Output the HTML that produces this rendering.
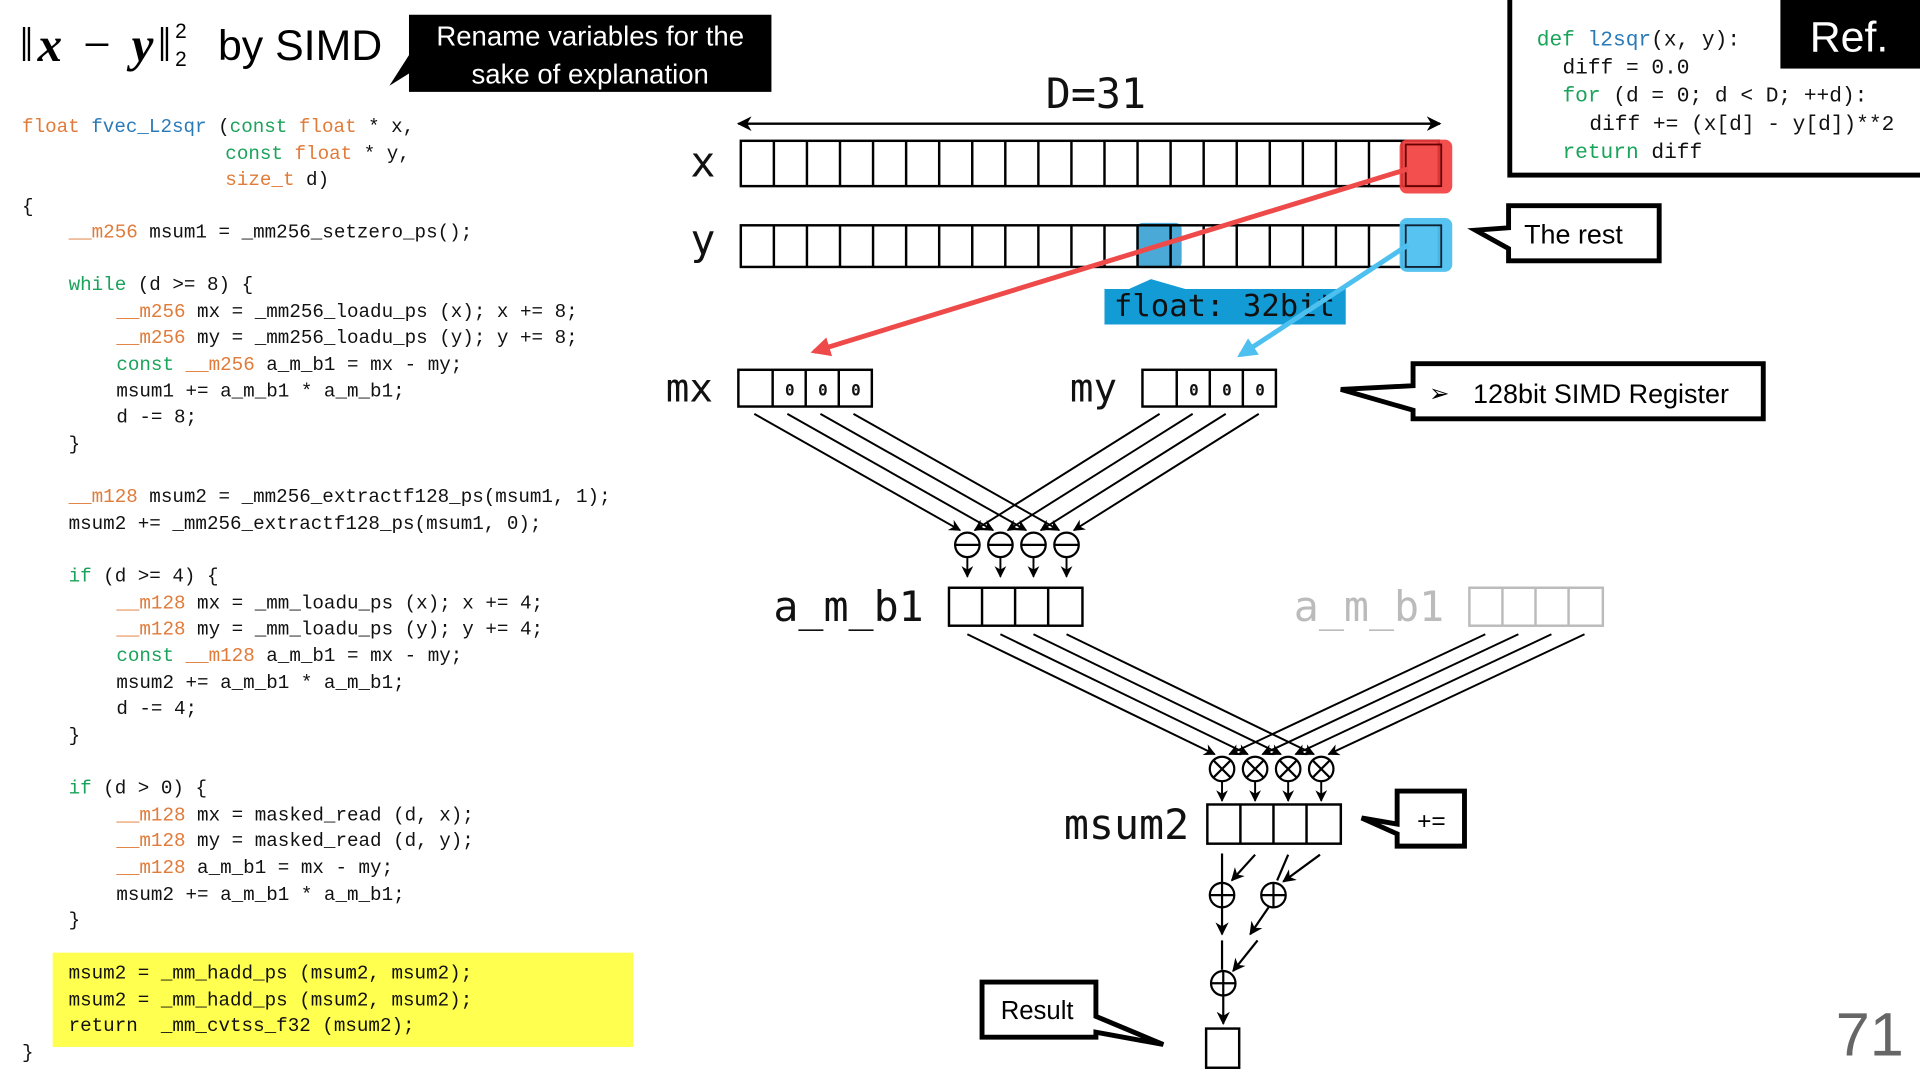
<!DOCTYPE html>
<html><head><meta charset="utf-8"><style>
html,body{margin:0;padding:0;background:#fff;}
svg{display:block;}
.c{font-family:"Liberation Mono",monospace;font-size:15.7px;fill:#111;white-space:pre;}
.o{fill:#e07b39}.b{fill:#2a7ab8}.g{fill:#1aa35a}
.lbl{font-family:"DejaVu Sans Mono","Liberation Mono",monospace;fill:#111;}
.s{font-family:"Liberation Sans",sans-serif;}
</style></head><body>
<svg width="1920" height="1080" viewBox="0 0 1568 882" xmlns="http://www.w3.org/2000/svg">
<defs>
<marker id="ah" viewBox="0 0 10 10" refX="9" refY="5" markerWidth="6" markerHeight="6" orient="auto-start-reverse"><path d="M0,0L10,5L0,10L3,5z" fill="#000"/></marker>
<marker id="ar" viewBox="0 0 10 10" refX="8" refY="5" markerWidth="4" markerHeight="4" orient="auto"><path d="M0,0L10,5L0,10z" fill="#ef4a4a"/></marker>
<marker id="ab" viewBox="0 0 10 10" refX="8" refY="5" markerWidth="4" markerHeight="4" orient="auto"><path d="M0,0L10,5L0,10z" fill="#4dc0ef"/></marker>
</defs>

<!-- title -->
<text x="16" y="50" font-size="40" font-family="Liberation Serif" textLength="124" lengthAdjust="spacing"><tspan>‖</tspan><tspan font-style="italic" font-weight="bold">x</tspan><tspan> − </tspan><tspan font-style="italic" font-weight="bold">y</tspan><tspan>‖</tspan></text>
<text x="143" y="31" font-size="17" class="s">2</text>
<text x="143" y="54" font-size="17" class="s">2</text>
<text x="178" y="49" font-size="35" class="s">by SIMD</text>

<!-- rename callout -->
<path d="M334,12H630V75H334V60L318,70L334,45Z" fill="#000"/>
<text x="482" y="37" font-size="22.5" fill="#fff" class="s" text-anchor="middle">Rename variables for the</text>
<text x="482" y="68" font-size="22.5" fill="#fff" class="s" text-anchor="middle">sake of explanation</text>

<!-- code -->
<rect x="43" y="778" width="474" height="77" fill="#ffff50"/>
<text class="c" x="18" y="108"><tspan class="o">float</tspan> <tspan class="b">fvec_L2sqr</tspan> (<tspan class="g">const</tspan> <tspan class="o">float</tspan> * x,</text>
<text class="c" x="184" y="130"><tspan class="g">const</tspan> <tspan class="o">float</tspan> * y,</text>
<text class="c" x="184" y="151"><tspan class="o">size_t</tspan> d)</text>
<text class="c" x="18" y="173">{</text>
<text class="c" x="56" y="194"><tspan class="o">__m256</tspan> msum1 = _mm256_setzero_ps();</text>
<text class="c" x="56" y="237"><tspan class="g">while</tspan> (d &gt;= 8) {</text>
<text class="c" x="95" y="259"><tspan class="o">__m256</tspan> mx = _mm256_loadu_ps (x); x += 8;</text>
<text class="c" x="95" y="280"><tspan class="o">__m256</tspan> my = _mm256_loadu_ps (y); y += 8;</text>
<text class="c" x="95" y="302"><tspan class="g">const</tspan> <tspan class="o">__m256</tspan> a_m_b1 = mx - my;</text>
<text class="c" x="95" y="324">msum1 += a_m_b1 * a_m_b1;</text>
<text class="c" x="95" y="345">d -= 8;</text>
<text class="c" x="56" y="367">}</text>
<text class="c" x="56" y="410"><tspan class="o">__m128</tspan> msum2 = _mm256_extractf128_ps(msum1, 1);</text>
<text class="c" x="56" y="432">msum2 += _mm256_extractf128_ps(msum1, 0);</text>
<text class="c" x="56" y="475"><tspan class="g">if</tspan> (d &gt;= 4) {</text>
<text class="c" x="95" y="497"><tspan class="o">__m128</tspan> mx = _mm_loadu_ps (x); x += 4;</text>
<text class="c" x="95" y="518"><tspan class="o">__m128</tspan> my = _mm_loadu_ps (y); y += 4;</text>
<text class="c" x="95" y="540"><tspan class="g">const</tspan> <tspan class="o">__m128</tspan> a_m_b1 = mx - my;</text>
<text class="c" x="95" y="562">msum2 += a_m_b1 * a_m_b1;</text>
<text class="c" x="95" y="583">d -= 4;</text>
<text class="c" x="56" y="605">}</text>
<text class="c" x="56" y="648"><tspan class="g">if</tspan> (d &gt; 0) {</text>
<text class="c" x="95" y="670"><tspan class="o">__m128</tspan> mx = masked_read (d, x);</text>
<text class="c" x="95" y="691"><tspan class="o">__m128</tspan> my = masked_read (d, y);</text>
<text class="c" x="95" y="713"><tspan class="o">__m128</tspan> a_m_b1 = mx - my;</text>
<text class="c" x="95" y="735">msum2 += a_m_b1 * a_m_b1;</text>
<text class="c" x="56" y="756">}</text>
<text class="c" x="56" y="799">msum2 = _mm_hadd_ps (msum2, msum2);</text>
<text class="c" x="56" y="821">msum2 = _mm_hadd_ps (msum2, msum2);</text>
<text class="c" x="56" y="842">return  _mm_cvtss_f32 (msum2);</text>
<text class="c" x="18" y="864">}</text>

<!-- Ref box -->
<rect x="1233" y="-5" width="340" height="148" fill="#fff" stroke="#000" stroke-width="4"/>
<rect x="1454" y="0" width="114" height="56" fill="#000"/>
<text x="1510" y="42" font-size="35" fill="#fff" class="s" text-anchor="middle">Ref.</text>
<g font-family="Liberation Mono,monospace" font-size="17.3" fill="#111">
<text x="1255" y="37"><tspan fill="#1aa35a">def</tspan> <tspan fill="#2a7ab8">l2sqr</tspan>(x, y):</text>
<text x="1276" y="60">diff = 0.0</text>
<text x="1276" y="83"><tspan fill="#1aa35a">for</tspan> (d = 0; d &lt; D; ++d):</text>
<text x="1298" y="106">diff += (x[d] - y[d])**2</text>
<text x="1276" y="129"><tspan fill="#1aa35a">return</tspan> diff</text>
</g>

<!-- D=31 -->
<text x="895" y="88" font-size="34" class="lbl" text-anchor="middle">D=31</text>
<line x1="603" y1="101" x2="1176" y2="101" stroke="#000" stroke-width="2" marker-start="url(#ah)" marker-end="url(#ah)"/>

<!-- x and y arrays -->
<text x="574" y="144" font-size="34" class="lbl" text-anchor="middle">x</text>
<text x="574" y="208" font-size="34" class="lbl" text-anchor="middle">y</text>
<rect x="928" y="182" width="37" height="37" rx="5" fill="#2a9ad0" opacity="0.85"/>
<g fill="none" stroke="#000" stroke-width="2">
<rect x="605" y="115" width="570" height="37"/>
<rect x="605" y="184" width="570" height="34"/>
<path d="M632 115v37M659 115v37M686 115v37M713 115v37M740 115v37M767 115v37M794 115v37M821 115v37M848 115v37M875 115v37M902 115v37M929 115v37M956 115v37M983 115v37M1010 115v37M1037 115v37M1064 115v37M1091 115v37M1118 115v37M1145 115v37"/>
<path d="M632 184v34M659 184v34M686 184v34M713 184v34M740 184v34M767 184v34M794 184v34M821 184v34M848 184v34M875 184v34M902 184v34M929 184v34M956 184v34M983 184v34M1010 184v34M1037 184v34M1064 184v34M1091 184v34M1118 184v34M1145 184v34"/>
</g>
<rect x="1143" y="114" width="43" height="44" rx="6" fill="#f23c3c" opacity="0.9"/>
<rect x="1148" y="118" width="29" height="34" fill="none" stroke="#600" stroke-width="1.5"/>
<rect x="1143" y="178" width="43" height="44" rx="6" fill="#4dc0ef" opacity="0.95"/>
<rect x="1148" y="184" width="29" height="34" fill="none" stroke="#123" stroke-width="1.5"/>
<line x1="1150" y1="138" x2="665" y2="287" stroke="#ef4a4a" stroke-width="4" marker-end="url(#ar)"/>
<!-- float label -->
<path d="M902,236H922L940,228L968,236H1099V265H902Z" fill="#139bd6"/>
<text x="1000" y="258" font-size="25" class="lbl" text-anchor="middle">float: 32bit</text>
<line x1="1150" y1="200" x2="1013" y2="290" stroke="#4dc0ef" stroke-width="4" marker-end="url(#ab)"/>

<!-- The rest callout -->
<path d="M1232,168H1355V213H1232V203L1205,188L1232,186Z" fill="#fff" stroke="#000" stroke-width="4"/>
<text x="1285" y="199" font-size="22" class="s" text-anchor="middle">The rest</text>

<!-- mx my -->
<text x="563" y="328" font-size="32" class="lbl" text-anchor="middle">mx</text>
<text x="893" y="328" font-size="32" class="lbl" text-anchor="middle">my</text>
<g fill="none" stroke="#000" stroke-width="2">
<rect x="603" y="302" width="109" height="30"/><path d="M631 302v30M658 302v30M685 302v30"/>
<rect x="933" y="302" width="109" height="30"/><path d="M961 302v30M988 302v30M1015 302v30"/>
</g>
<g font-size="13" font-weight="bold" class="lbl" text-anchor="middle">
<text x="645" y="323">0</text><text x="672" y="323">0</text><text x="699" y="323">0</text>
<text x="975" y="323">0</text><text x="1002" y="323">0</text><text x="1029" y="323">0</text>
</g>

<!-- SIMD register callout -->
<path d="M1154,297H1440V342H1154V335L1095,318L1154,315Z" fill="#fff" stroke="#000" stroke-width="4"/>
<text x="1167" y="328" font-size="20" class="s">➢</text>
<text x="1203" y="329" font-size="22" class="s">128bit SIMD Register</text>

<!-- subtraction lines -->
<g stroke="#000" stroke-width="1.6" fill="none" marker-end="url(#ah)">
<line x1="616" y1="338" x2="784" y2="433"/><line x1="643" y1="338" x2="811" y2="433"/>
<line x1="670" y1="338" x2="838" y2="433"/><line x1="697" y1="338" x2="865" y2="433"/>
<line x1="947" y1="338" x2="796" y2="433"/><line x1="974" y1="338" x2="823" y2="433"/>
<line x1="1001" y1="338" x2="850" y2="433"/><line x1="1028" y1="338" x2="877" y2="433"/>
<line x1="790" y1="455" x2="790" y2="471"/><line x1="817" y1="455" x2="817" y2="471"/>
<line x1="844" y1="455" x2="844" y2="471"/><line x1="871" y1="455" x2="871" y2="471"/>
</g>
<g stroke="#000" stroke-width="1.8" fill="#fff">
<circle cx="790" cy="445" r="10"/><circle cx="817" cy="445" r="10"/><circle cx="844" cy="445" r="10"/><circle cx="871" cy="445" r="10"/>
<path d="M780 445h20M807 445h20M834 445h20M861 445h20"/>
</g>

<!-- a_m_b1 -->
<text x="693" y="507" font-size="34" class="lbl" text-anchor="middle">a_m_b1</text>
<g fill="none" stroke="#000" stroke-width="2"><rect x="775" y="480" width="109" height="31"/><path d="M802 480v31M829 480v31M856 480v31"/></g>
<text x="1118" y="507" font-size="34" class="lbl" text-anchor="middle" style="fill:#bbb">a_m_b1</text>
<g fill="none" stroke="#bbb" stroke-width="2"><rect x="1200" y="480" width="109" height="31"/><path d="M1227 480v31M1254 480v31M1281 480v31"/></g>

<g stroke="#000" stroke-width="1.6" fill="none" marker-end="url(#ah)">
<line x1="790" y1="518" x2="992" y2="616"/><line x1="817" y1="518" x2="1019" y2="616"/>
<line x1="844" y1="518" x2="1046" y2="616"/><line x1="871" y1="518" x2="1073" y2="616"/>
<line x1="1213" y1="518" x2="1004" y2="616"/><line x1="1240" y1="518" x2="1031" y2="616"/>
<line x1="1267" y1="518" x2="1058" y2="616"/><line x1="1294" y1="518" x2="1085" y2="616"/>
<line x1="998" y1="638" x2="998" y2="654"/><line x1="1025" y1="638" x2="1025" y2="654"/>
<line x1="1052" y1="638" x2="1052" y2="654"/><line x1="1079" y1="638" x2="1079" y2="654"/>
</g>
<g stroke="#000" stroke-width="1.8" fill="#fff">
<circle cx="998" cy="628" r="10"/><circle cx="1025" cy="628" r="10"/><circle cx="1052" cy="628" r="10"/><circle cx="1079" cy="628" r="10"/>
<path d="M991 621l14 14M1005 621l-14 14M1018 621l14 14M1032 621l-14 14M1045 621l14 14M1059 621l-14 14M1072 621l14 14M1086 621l-14 14" fill="none"/>
</g>

<!-- msum2 -->
<text x="920" y="685" font-size="34" class="lbl" text-anchor="middle">msum2</text>
<g fill="none" stroke="#000" stroke-width="2"><rect x="986" y="657" width="109" height="32"/><path d="M1013 657v32M1040 657v32M1067 657v32"/></g>
<path d="M1141,646H1196V691H1141V681L1112,668L1141,673Z" fill="#fff" stroke="#000" stroke-width="4"/>
<text x="1169" y="677" font-size="20" class="s" text-anchor="middle">+=</text>

<!-- reduction -->
<g stroke="#000" stroke-width="1.8" fill="none">
<line x1="998" y1="697" x2="998" y2="721"/>
<line x1="1052" y1="698" x2="1043" y2="719"/>
<line x1="998" y1="768" x2="998" y2="792"/>
</g>
<g stroke="#000" stroke-width="1.8" fill="none" marker-end="url(#ah)">
<line x1="1025" y1="698" x2="1006" y2="719"/>
<line x1="1078" y1="698" x2="1048" y2="720"/>
<line x1="998" y1="741" x2="998" y2="763"/>
<line x1="1036" y1="741" x2="1021" y2="763"/>
<line x1="1027" y1="768" x2="1007" y2="793"/>
<line x1="999" y1="813" x2="999" y2="836"/>
</g>
<g stroke="#000" stroke-width="1.8" fill="#fff">
<circle cx="998" cy="731" r="10"/><circle cx="1040" cy="731" r="10"/><circle cx="999" cy="803" r="10"/>
<path d="M988 731h20M998 721v20M1030 731h20M1040 721v20M989 803h20M999 793v20" fill="none"/>
</g>
<rect x="985" y="840" width="27" height="32" fill="none" stroke="#000" stroke-width="2"/>

<!-- Result callout -->
<path d="M802,802H895V830L950,853L895,843V847H802Z" fill="#fff" stroke="#000" stroke-width="4"/>
<text x="847" y="832" font-size="21" class="s" text-anchor="middle">Result</text>

<text x="1527" y="862" font-size="50" fill="#666" class="s" text-anchor="middle">71</text>
</svg>
</body></html>
